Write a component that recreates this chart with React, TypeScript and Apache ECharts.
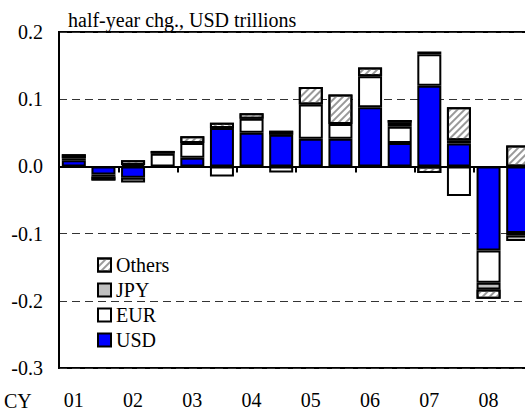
import React, { useEffect, useRef } from 'react';
import * as echarts from 'echarts';

const categories = [
  '01H1', '01H2', '02H1', '02H2', '03H1', '03H2', '04H1', '04H2',
  '05H1', '05H2', '06H1', '06H2', '07H1', '07H2', '08H1', '08H2',
];
const usd = [0.009, -0.012, -0.017, 0, 0.013, 0.057, 0.05, 0.047, 0.041, 0.041, 0.088, 0.035, 0.12, 0.034, -0.125, -0.099];
const eur = [0.003, -0.003, 0.002, 0.019, 0.022, -0.015, 0.021, -0.009, 0.051, 0.022, 0.046, 0.024, 0.047, -0.044, -0.048, -0.004];
const jpy = [0, 0, -0.007, 0, 0, 0, 0, 0, 0, 0, 0, 0.006, 0.004, 0.005, -0.01, -0.008];
const others = [0.006, -0.006, 0.007, 0.004, 0.01, 0.008, 0.008, 0.006, 0.026, 0.044, 0.013, 0.004, -0.01, 0.049, -0.014, 0.031];

const titleText = 'half-year chg., USD trillions';
const FONT = "'Times New Roman', 'Liberation Serif', serif";

export default function App() {
  const ref = useRef<HTMLDivElement>(null);
  useEffect(() => {
    const chart = echarts.init(ref.current!, null, { renderer: 'svg' });
    const toData = (arr: number[]) => arr.map((v) => (v === 0 ? null : v));
    const base = {
      type: 'bar',
      stack: 'total',
      barWidth: 24,
      emphasis: { disabled: true },
    };
    chart.setOption({
      animation: false,
      textStyle: { fontFamily: FONT },
      grid: {
        left: 59,
        top: 32,
        width: 474,
        height: 336,
        show: true,
        borderColor: '#000',
        borderWidth: 2,
        backgroundColor: 'transparent',
      },
      legend: {
        orient: 'vertical',
        left: 97,
        top: 255,
        padding: 0,
        itemGap: 5,
        itemWidth: 13,
        itemHeight: 13,
        icon: 'rect',
        selectedMode: false,
        data: ['Others', 'JPY', 'EUR', 'USD'],
        textStyle: { fontFamily: FONT, fontSize: 20, color: '#000' },
      },
      xAxis: {
        type: 'category',
        data: categories,
        boundaryGap: true,
        axisLine: { show: true, lineStyle: { color: '#000', width: 2 } },
        axisTick: { show: true, interval: 1, length: 6, lineStyle: { color: '#000', width: 2 } },
        axisLabel: {
          interval: 1,
          margin: 22,
          fontFamily: FONT,
          fontSize: 20,
          color: '#000',
          formatter: (v: string) => v.slice(0, 2),
        },
      },
      yAxis: {
        type: 'value',
        min: -0.3,
        max: 0.2,
        interval: 0.1,
        axisLine: { show: true, lineStyle: { color: '#000', width: 2 } },
        axisTick: { show: false },
        axisLabel: {
          margin: 16,
          fontFamily: FONT,
          fontSize: 20,
          color: '#000',
          formatter: (v: number) => v.toFixed(1),
        },
        splitLine: { show: true, lineStyle: { color: '#333', type: [8, 5], width: 1 } },
      },
      graphic: [
        {
          type: 'text',
          left: 68,
          top: 10,
          style: { text: titleText, fontFamily: FONT, fontSize: 20, fill: '#000' },
        },
        {
          type: 'text',
          left: 4,
          top: 391,
          style: { text: 'CY', fontFamily: FONT, fontSize: 20, fill: '#000' },
        },
      ],
      series: [
        {
          ...base,
          name: 'USD',
          data: toData(usd),
          itemStyle: { color: '#0000ff', borderColor: '#000', borderWidth: 2 },
          markLine: {
            silent: true,
            symbol: 'none',
            label: { show: false },
            lineStyle: { color: '#000', type: 'solid', width: 1.5 },
            data: [{ yAxis: 0 }],
          },
        },
        {
          ...base,
          name: 'EUR',
          data: toData(eur),
          itemStyle: { color: '#ffffff', borderColor: '#000', borderWidth: 2 },
        },
        {
          ...base,
          name: 'JPY',
          data: toData(jpy),
          itemStyle: { color: '#c0c0c0', borderColor: '#000', borderWidth: 2 },
        },
        {
          ...base,
          name: 'Others',
          data: toData(others),
          itemStyle: {
            color: '#ffffff',
            borderColor: '#000',
            borderWidth: 2,
            decal: {
              symbol: 'rect',
              color: '#999999',
              dashArrayX: [1, 0],
              dashArrayY: [2, 3],
              rotation: -Math.PI / 4,
            },
          },
        },
      ],
    });
    return () => chart.dispose();
  }, []);
  return (
    <div
      style={{
        position: 'fixed',
        left: 0,
        top: 0,
        width: 525,
        height: 412,
        overflow: 'hidden',
        background: '#fff',
      }}
    >
      <div ref={ref} style={{ width: 540, height: 412 }} />
    </div>
  );
}
